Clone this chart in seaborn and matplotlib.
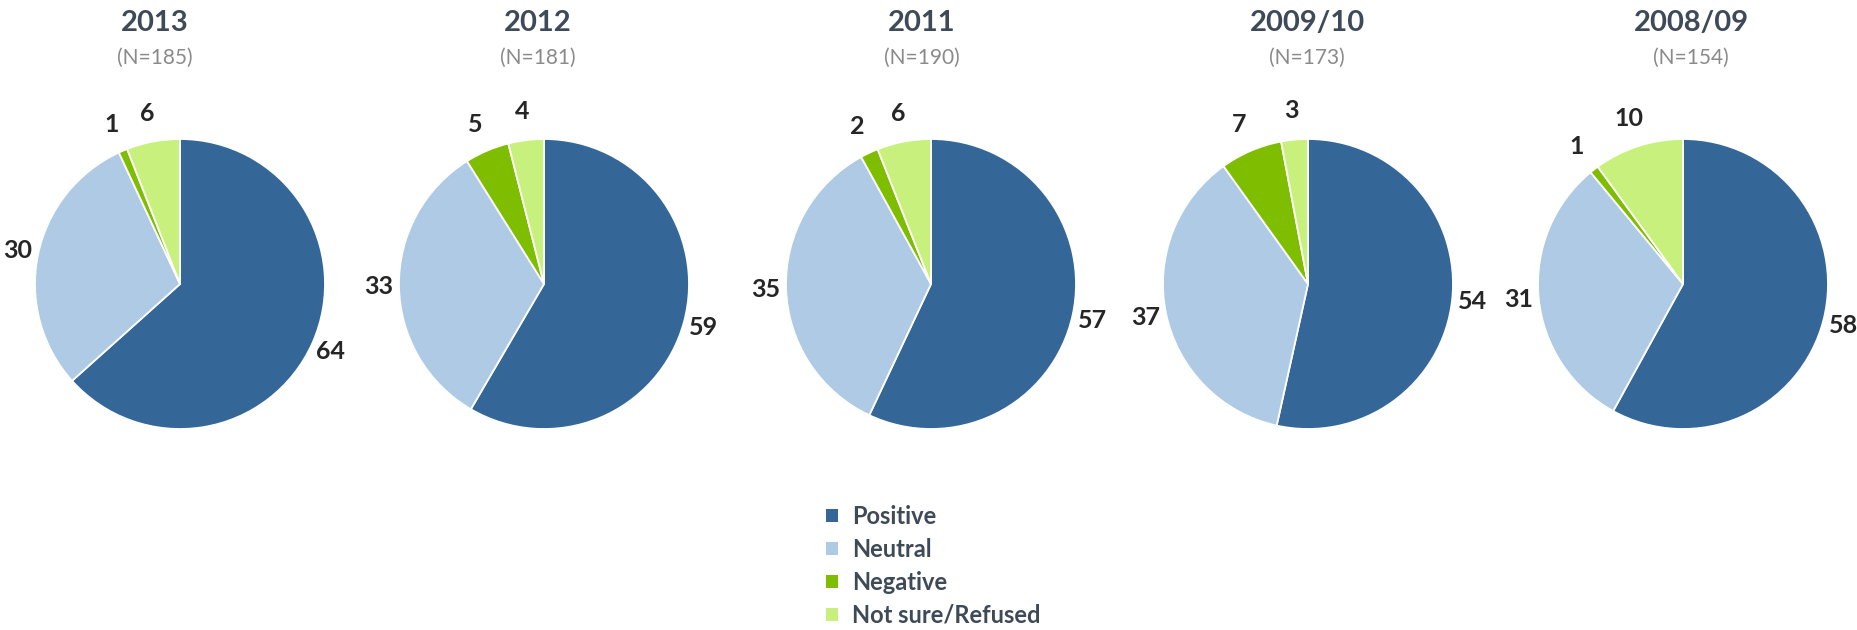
import matplotlib
matplotlib.use("Agg")
import numpy as np
import matplotlib.pyplot as plt
from matplotlib.patches import Patch
import seaborn as sns

# Survey results per wave (percent of respondents)
years = ["2013", "2012", "2011", "2009/10", "2008/09"]
sample_sizes = [185, 181, 190, 173, 154]
categories = ["Positive", "Neutral", "Negative", "Not sure/Refused"]
positive = [64, 59, 57, 54, 58]
neutral = [30, 33, 35, 37, 31]
negative = [1, 5, 2, 7, 1]
not_sure = [6, 4, 6, 3, 10]

sns.set_theme(style="white")
plt.rcParams["font.family"] = ["Lato", "DejaVu Sans"]

palette = sns.color_palette(["#346798", "#aecae4", "#7fbd00", "#c8f07c"])
title_color = "#3e4a57"
label_color = "#262626"

W, H, DPI = 1858, 630, 100
fig = plt.figure(figsize=(W / DPI, H / DPI), dpi=DPI)
fig.patch.set_facecolor("white")

# layout in pixels
pie_cx = [180, 544, 931, 1308, 1683]
title_cx = [155, 538, 922, 1307, 1691]
pie_cy = 284
R = 145
label_r = 1.14

for i, year in enumerate(years):
    vals = [positive[i], neutral[i], negative[i], not_sure[i]]
    ax = fig.add_axes([(pie_cx[i] - R) / W, (H - pie_cy - R) / H, 2 * R / W, 2 * R / H])
    wedges, _ = ax.pie(
        vals,
        colors=palette,
        startangle=90,
        counterclock=False,
        wedgeprops=dict(edgecolor="white", linewidth=1.3),
    )
    # value labels just outside each wedge, at its mid angle
    for w, v in zip(wedges, vals):
        ang = np.deg2rad((w.theta1 + w.theta2) / 2)
        # small slices near the top sit a little farther out
        r = label_r + (0.06 if v <= 10 else 0.0)
        ax.text(r * np.cos(ang), r * np.sin(ang), str(v),
                ha="center", va="center", fontsize=18, fontweight="bold",
                color=label_color, clip_on=False)
    ax.set_xlim(-1, 1)
    ax.set_ylim(-1, 1)
    ax.set_aspect("equal")
    ax.axis("off")

    fig.text(title_cx[i] / W, 1 - 23 / H, year, ha="center", va="center",
             fontsize=21, fontweight="bold", color=title_color)
    fig.text(title_cx[i] / W, 1 - 58 / H, f"(N={sample_sizes[i]})", ha="center", va="center",
             fontsize=15, color="#8a8a8a")

handles = [Patch(facecolor=c, edgecolor="none") for c in palette]
leg = fig.legend(
    handles, categories,
    loc="upper left",
    bbox_to_anchor=(826 / W, 1 - 505 / H),
    bbox_transform=fig.transFigure,
    frameon=False,
    borderpad=0,
    borderaxespad=0,
    handlelength=0.5,
    handleheight=0.5,
    handletextpad=0.6,
    labelspacing=0.42,
    prop=dict(size=17, weight="bold"),
)
for t in leg.get_texts():
    t.set_color(title_color)

fig.savefig("out.png", dpi=DPI, facecolor="white")
